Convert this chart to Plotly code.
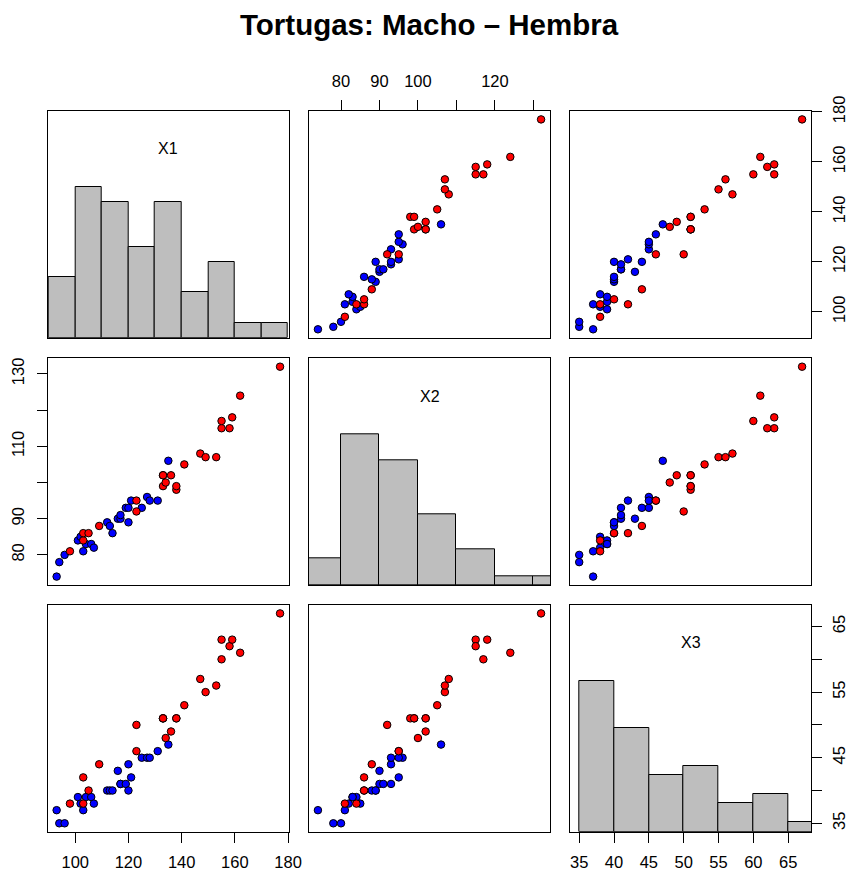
import plotly.graph_objects as go

# ---- data: turtles (length X1, width X2, height X3) ----
fem_x1 = [98, 103, 103, 105, 109, 123, 123, 133, 133, 133, 134, 136, 138, 138, 141, 147, 149, 153, 155, 155, 158, 159, 162, 177]
fem_x2 = [81, 84, 86, 86, 88, 92, 95, 99, 102, 102, 100, 102, 98, 99, 105, 108, 107, 107, 115, 117, 115, 118, 124, 132]
fem_x3 = [38, 38, 42, 40, 44, 50, 46, 51, 51, 51, 48, 49, 51, 51, 53, 57, 55, 56, 63, 60, 62, 63, 61, 67]

mal_x1 = [93, 94, 96, 101, 102, 103, 104, 106, 107, 112, 113, 114, 116, 117, 117, 119, 120, 120, 121, 125, 127, 128, 131, 135]
mal_x2 = [74, 78, 80, 84, 85, 81, 83, 83, 82, 89, 88, 86, 90, 90, 91, 93, 89, 93, 95, 93, 96, 95, 95, 106]
mal_x3 = [37, 35, 35, 39, 38, 37, 39, 39, 38, 40, 40, 40, 43, 41, 41, 41, 40, 44, 42, 45, 45, 45, 46, 47]

var_names = ["X1", "X2", "X3"]

# histogram bins (break start, width) and counts per variable
hist_start = [90, 70, 35]
hist_width = [10, 10, 5]
hist_counts = [
    [4, 10, 9, 6, 9, 3, 5, 1, 1],
    [3, 17, 14, 8, 4, 1, 1],
    [16, 11, 6, 7, 3, 4, 1],
]

# tick values / labels
x1_ticks = [100, 120, 140, 160, 180]
x1_labels = ["100", "120", "140", "160", "180"]
x2_ticks = [80, 90, 100, 110, 120, 130]
x2_top_labels = ["80", "90", "100", "", "120", ""]
x2_left_labels = ["80", "90", "", "110", "", "130"]
x3_ticks = [35, 40, 45, 50, 55, 60, 65]
x3_bottom_labels = ["35", "40", "45", "50", "55", "60", "65"]
x3_right_labels = ["35", "", "45", "", "55", "", "65"]

TITLE = "Tortugas: Macho – Hembra"

# ---- layout geometry (pixels) ----
W, H = 848, 871
col_px = [(47.7, 289.0), (309.0, 550.0), (570.3, 811.0)]
row_px = [(111.0, 337.7), (358.3, 585.0), (605.0, 831.7)]

fem = [fem_x1, fem_x2, fem_x3]
mal = [mal_x1, mal_x2, mal_x3]


def rng(i):
    vals = fem[i] + mal[i]
    lo, hi = min(vals), max(vals)
    d = (hi - lo) * 0.04
    return [lo - d, hi + d]


ranges = [rng(i) for i in range(3)]

FONT = "Liberation Sans, Arial, Helvetica, sans-serif"
TFS = 16.5

fig = go.Figure()
layout = {}


def axname(k):
    return "" if k == 0 else str(k + 1)


for i in range(3):
    for j in range(3):
        k = i * 3 + j
        n = axname(k)
        xref = "x" + n
        yref = "y" + n
        xd = [col_px[j][0] / W, col_px[j][1] / W]
        yd = [1 - row_px[i][1] / H, 1 - row_px[i][0] / H]
        xa = dict(domain=xd, range=ranges[j], anchor=yref, showline=True, mirror=True,
                  linecolor="black", linewidth=1, showgrid=False, zeroline=False,
                  ticks="", showticklabels=False, automargin=False,
                  tickfont=dict(family=FONT, size=TFS, color="black"))
        if i == j:
            ya = dict(domain=yd, range=[0, 1.5], anchor=xref, showline=True, mirror=True,
                      linecolor="black", linewidth=1, showgrid=False, zeroline=False,
                      ticks="", showticklabels=False, automargin=False)
            cnt = hist_counts[i]
            m = max(cnt)
            centers = [hist_start[i] + hist_width[i] * (b + 0.5) for b in range(len(cnt))]
            fig.add_trace(go.Bar(x=centers, y=[c / m for c in cnt], width=hist_width[i],
                                 marker=dict(color="#BEBEBE", line=dict(color="black", width=1)),
                                 xaxis=xref, yaxis=yref, showlegend=False, hoverinfo="skip"))
            layout["annotations"] = layout.get("annotations", []) + [dict(
                text=var_names[i], x=(col_px[j][0] + col_px[j][1]) / 2 / W,
                y=1 - (row_px[i][1] - (row_px[i][1] - row_px[i][0]) * (0.5 + 1 / 3)) / H,
                xref="paper", yref="paper", showarrow=False, xanchor="center", yanchor="middle",
                font=dict(family=FONT, size=16, color="black"))]
        else:
            ya = dict(domain=yd, range=ranges[i], anchor=xref, showline=True, mirror=True,
                      linecolor="black", linewidth=1, showgrid=False, zeroline=False,
                      ticks="", showticklabels=False, automargin=False,
                      tickfont=dict(family=FONT, size=TFS, color="black"))
            fig.add_trace(go.Scatter(x=mal[j], y=mal[i], mode="markers",
                                     marker=dict(color="#0000FF", size=7.5, line=dict(color="black", width=1)),
                                     xaxis=xref, yaxis=yref, showlegend=False))
            fig.add_trace(go.Scatter(x=fem[j], y=fem[i], mode="markers",
                                     marker=dict(color="#FF0000", size=7.5, line=dict(color="black", width=1)),
                                     xaxis=xref, yaxis=yref, showlegend=False))
        layout["xaxis" + n] = xa
        layout["yaxis" + n] = ya

# axis ticks as in R pairs()
tick_common = dict(ticks="outside", ticklen=10, tickwidth=1, tickcolor="black", showticklabels=True)
# top of panel (0,1): X2
layout["xaxis2"].update(side="top", tickvals=x2_ticks, ticktext=x2_top_labels, ticklabelstandoff=6, **tick_common)
# bottom of panel (2,0): X1
layout["xaxis7"].update(side="bottom", tickvals=x1_ticks, ticktext=x1_labels, ticklabelstandoff=5, **tick_common)
# bottom of panel (2,2): X3
layout["xaxis9"].update(side="bottom", tickvals=x3_ticks, ticktext=x3_bottom_labels, ticklabelstandoff=5, **tick_common)
# right of panel (0,2): X1
layout["yaxis3"].update(side="right", tickvals=x1_ticks, ticktext=x1_labels, tickangle=-90, ticklabelstandoff=3, **tick_common)
# left of panel (1,0): X2
layout["yaxis4"].update(side="left", tickvals=x2_ticks, ticktext=x2_left_labels, tickangle=-90, ticklabelstandoff=6, **tick_common)
# right of panel (2,2): X3 scale (overlay axis on histogram panel)
layout["yaxis10"] = dict(overlaying="y9", anchor="x9", side="right", range=ranges[2], showline=False,
                         showgrid=False, zeroline=False, tickvals=x3_ticks, ticktext=x3_right_labels,
                         tickangle=-90, ticklabelstandoff=3, automargin=False,
                         tickfont=dict(family=FONT, size=TFS, color="black"), **tick_common)
# dummy invisible trace to activate yaxis10
fig.add_trace(go.Scatter(x=[ranges[2][0]], y=[ranges[2][0]], mode="markers", marker=dict(opacity=0),
                         xaxis="x9", yaxis="y10", showlegend=False, hoverinfo="skip"))

layout["annotations"] = layout.get("annotations", []) + [dict(
    text="<b>" + TITLE + "</b>", x=0.5 * (col_px[0][0] + col_px[2][1]) / W, y=1 - 25 / H,
    xref="paper", yref="paper", showarrow=False, xanchor="center", yanchor="middle",
    font=dict(family=FONT, size=29.5, color="black"))]

fig.update_layout(**layout)
fig.update_layout(width=W, height=H, margin=dict(l=0, r=0, t=0, b=0, pad=0, autoexpand=False),
                  plot_bgcolor="white", paper_bgcolor="white", bargap=0, showlegend=False)

fig.write_html("out.html")
